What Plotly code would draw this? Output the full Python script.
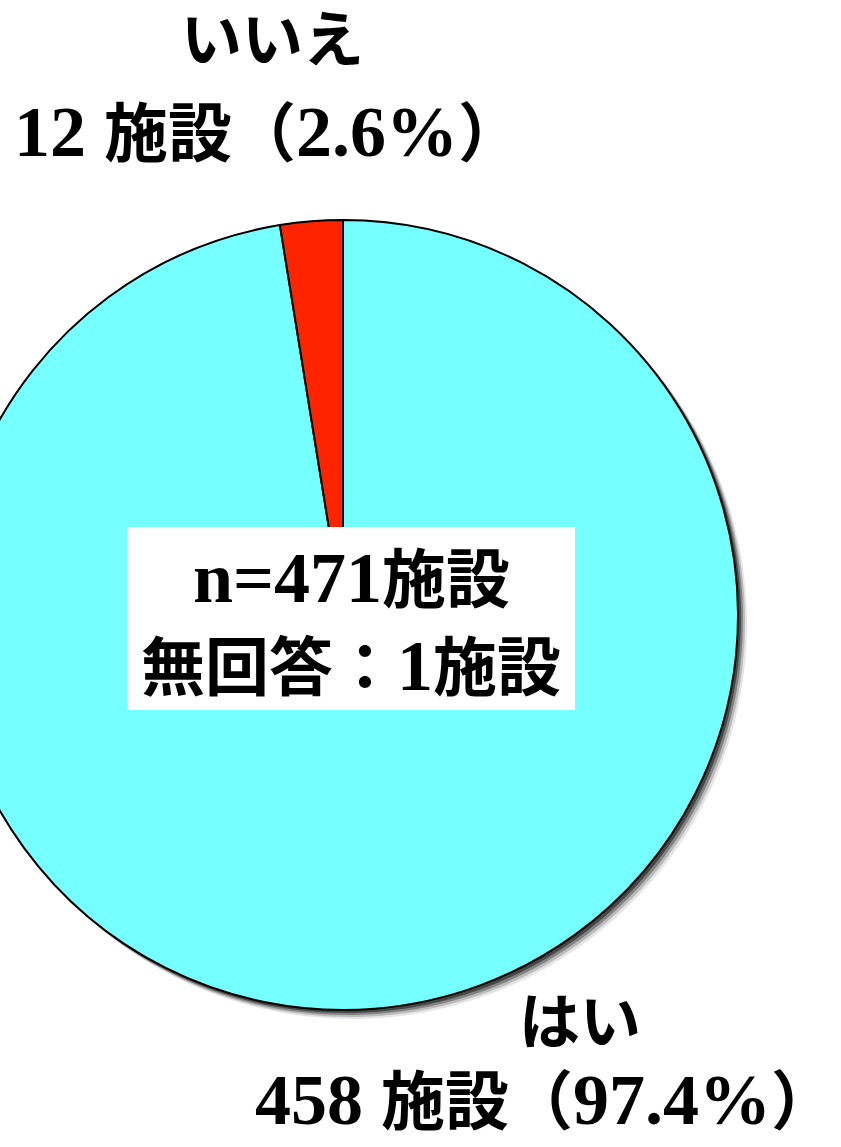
import re
import plotly.graph_objects as go

# Survey answers
categories = ["はい", "いいえ"]
counts = [458, 12]
no_answer = 1
unit = "施設"

colors = ["#75FFFF", "#FF2400"]

total_answered = sum(counts)
n_total = total_answered + no_answer
percents = [round(c / total_answered * 100, 1) for c in counts]

# Canvas: the pie sits partly off the left edge, so the graph div is
# widened and slid left by SHIFT pixels.
VIEW_W, H = 841, 1147
SHIFT = 52
W = VIEW_W + SHIFT

CX, CY, R = 343, 615, 395  # pie centre / radius in view pixels


def px(x):
    return (x + SHIFT) / W


def py(y):
    return (H - y) / H


def pie_domain(dx=0, dy=0):
    return dict(
        x=[max(0, px(CX - R + dx)), min(1, px(CX + R + dx))],
        y=[max(0, py(CY + R + dy)), min(1, py(CY - R + dy))],
    )


FONT = "Liberation Serif, 'Noto Sans CJK JP', serif"
CJK_SIZE = 64
LATIN_SIZE = 72


def styled(text):
    """Bold text with Latin runs set a little larger than the kana/kanji."""
    parts = re.split(r"([\x20-\x7e]+)", text)
    out = []
    for part in parts:
        if not part:
            continue
        if re.fullmatch(r"[\x20-\x7e]+", part):
            out.append(f"<span style='font-size:{LATIN_SIZE}px'>{part}</span>")
        else:
            out.append(part)
    return "<b>" + "".join(out) + "</b>"


fig = go.Figure()

# soft drop shadow built from stacked offset copies of the pie
for off, op in [(9, 0.10), (7, 0.18), (5, 0.30), (3, 0.45)]:
    fig.add_trace(go.Pie(
        labels=categories, values=counts, sort=False,
        direction="clockwise", rotation=0,
        marker=dict(colors=["#000000"] * len(counts), line=dict(width=0)),
        textinfo="none", hoverinfo="skip", showlegend=False,
        opacity=op, domain=pie_domain(off, off),
    ))

fig.add_trace(go.Pie(
    labels=categories, values=counts, sort=False,
    direction="clockwise", rotation=0,
    marker=dict(colors=colors, line=dict(color="#000000", width=2)),
    textinfo="none", hoverinfo="label+value+percent", showlegend=False,
    domain=pie_domain(),
))

label_pos = {
    "はい": dict(x=580, y1=1023, x2=545, y2=1100),
    "いいえ": dict(x=272, y1=42, x2=268, y2=132),
}

annotations = []
for cat, cnt, pct in zip(categories, counts, percents):
    p = label_pos[cat]
    annotations.append(dict(
        text=f"<b>{cat}</b>", x=px(p["x"]), y=py(p["y1"]),
        xref="paper", yref="paper", showarrow=False,
        xanchor="center", yanchor="middle",
        font=dict(family=FONT, size=61, color="#000000"),
    ))
    annotations.append(dict(
        text=styled(f"{cnt} {unit}（{pct:.1f}%）"), x=px(p["x2"]), y=py(p["y2"]),
        xref="paper", yref="paper", showarrow=False,
        xanchor="center", yanchor="middle",
        font=dict(family=FONT, size=CJK_SIZE, color="#000000"),
    ))

# centre note box
box_l, box_r, box_t, box_b = 127, 575, 527, 710
shapes = [dict(
    type="rect", xref="paper", yref="paper",
    x0=px(box_l), x1=px(box_r), y0=py(box_b), y1=py(box_t),
    fillcolor="#FFFFFF", line=dict(width=0), layer="above",
)]
box_cx = (box_l + box_r) / 2
for text, yy in [(f"n={n_total}{unit}", 578), (f"無回答：{no_answer}{unit}", 666)]:
    annotations.append(dict(
        text=styled(text), x=px(box_cx), y=py(yy),
        xref="paper", yref="paper", showarrow=False,
        xanchor="center", yanchor="middle",
        font=dict(family=FONT, size=CJK_SIZE, color="#000000"),
    ))

fig.update_layout(
    width=W, height=H,
    margin=dict(l=0, r=0, t=0, b=0),
    paper_bgcolor="#FFFFFF", plot_bgcolor="#FFFFFF",
    annotations=annotations, shapes=shapes,
)

post = (
    "var gd=document.getElementById('{plot_id}');"
    f"gd.style.marginLeft='-{SHIFT}px';"
    "document.body.style.margin='0';"
    "document.body.style.overflow='hidden';"
)

fig.write_html("out.html", config={"displayModeBar": False}, post_script=post)
